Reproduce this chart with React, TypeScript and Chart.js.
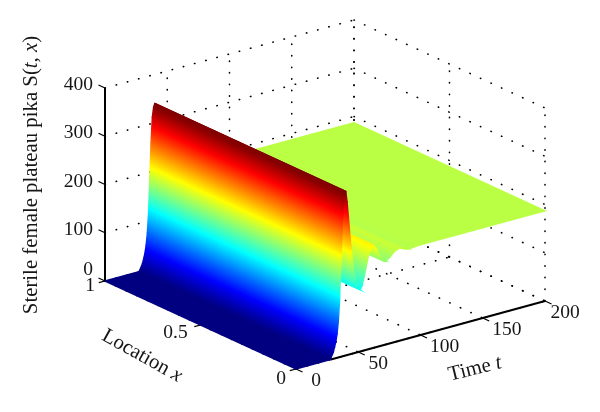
import React, { useEffect, useRef } from "react";
import Chart from "chart.js/auto";

// values; S does not visibly change with location
const timePoints = [0, 27, 28, 30, 31, 32, 33, 34, 35, 36, 37, 38, 39, 40, 41, 42, 44, 46, 48, 50, 51.5, 53, 55, 58, 61, 62, 64, 67, 70, 72, 75, 79, 83, 87, 91, 100, 150, 200];
const sterileValues = [0, 0, 3, 14, 24, 34, 50, 75, 118, 190, 260, 312, 332, 340, 318, 288, 225, 175, 148, 132, 128, 135, 155, 192, 212, 213, 205, 188, 175, 173, 178, 188, 192, 188, 185, 187, 187, 187];
const timeTicks = [0, 50, 100, 150, 200];
const locationTicks = [0, 0.5, 1];
const heightTicks = [0, 100, 200, 300, 400];

const COLOR_MAX = 335;
const FONT = '"Liberation Serif"';
const TEXT = "#161616";

// axonometric view of (t, x, S) onto the chart's plane
const project = (t: number, x: number, s: number) => ({
  x: 105 + 191 * (1 - x) + (249 * t) / 200,
  y: 281 + 88 * (1 - x) - (68 * t) / 200 - 0.4825 * s,
});

const clamp = (v: number) => Math.max(0, Math.min(1, v));
const jet = (v: number) => {
  const r = clamp(1.5 - Math.abs(4 * v - 3));
  const g = clamp(1.5 - Math.abs(4 * v - 2));
  const b = clamp(1.5 - Math.abs(4 * v - 1));
  return `rgb(${Math.round(r * 255)},${Math.round(g * 255)},${Math.round(b * 255)})`;
};

// gradient for one strip: colour depends on S only, bands run along the x direction
const stripPaint = (c: any, i: number) => {
  const { x: sx, y: sy } = c.chart.scales;
  const v0 = clamp(sterileValues[i] / COLOR_MAX);
  const v1 = clamp(sterileValues[i + 1] / COLOR_MAX);
  if (!sx || !sy) return jet(v0);
  const p0 = project(timePoints[i], 0, sterileValues[i]);
  const p1 = project(timePoints[i + 1], 0, sterileValues[i + 1]);
  const a = { x: sx.getPixelForValue(p0.x), y: sy.getPixelForValue(p0.y) };
  const b = { x: sx.getPixelForValue(p1.x), y: sy.getPixelForValue(p1.y) };
  const ox = project(0, 0, 0).x - project(0, 1, 0).x;
  const oy = project(0, 0, 0).y - project(0, 1, 0).y;
  const len = Math.hypot(ox, oy);
  const nx = -oy / len;
  const ny = ox / len;
  const d = (b.x - a.x) * nx + (b.y - a.y) * ny;
  if (Math.abs(d) < 0.01 || !isFinite(d)) return jet(v0);
  const g = c.chart.ctx.createLinearGradient(a.x, a.y, a.x + nx * d, a.y + ny * d);
  g.addColorStop(0, jet(v0));
  [0.125, 0.375, 0.625, 0.875].forEach((k) => {
    if ((k > v0 && k < v1) || (k < v0 && k > v1)) {
      g.addColorStop((k - v0) / (v1 - v0), jet(k));
    }
  });
  g.addColorStop(1, jet(v1));
  return g;
};

const surfaceSets = () => {
  const sets: any[] = [];
  for (let i = 0; i < timePoints.length - 1; i++) {
    const [t0, t1] = [timePoints[i], timePoints[i + 1]];
    const [s0, s1] = [sterileValues[i], sterileValues[i + 1]];
    const paint = (c: any) => stripPaint(c, i);
    sets.push({
      data: [project(t0, 1, s0), project(t0, 0, s0), project(t1, 0, s1), project(t1, 1, s1), project(t0, 1, s0)],
      showLine: true,
      fill: "shape",
      tension: 0,
      pointRadius: 0,
      // wide enough that neighbouring strips overlap, otherwise the white shows through the seams
      borderWidth: 1.4,
      borderColor: paint,
      backgroundColor: paint,
    });
  }
  return sets;
};

const dotted = (from: any, to: any) => ({
  data: [from, to],
  showLine: true,
  pointRadius: 0,
  borderColor: "#000",
  borderWidth: 1.6,
  borderDash: [0.4, 11.2],
  borderCapStyle: "round",
});

const gridSets = () => {
  const sets: any[] = [];
  heightTicks.forEach((s) => {
    sets.push(dotted(project(0, 1, s), project(200, 1, s)));
    sets.push(dotted(project(200, 1, s), project(200, 0, s)));
  });
  timeTicks.forEach((t) => {
    sets.push(dotted(project(t, 1, 0), project(t, 1, 400)));
    sets.push(dotted(project(t, 1, 0), project(t, 0, 0)));
  });
  locationTicks.forEach((x) => {
    sets.push(dotted(project(200, x, 0), project(200, x, 400)));
    sets.push(dotted(project(0, x, 0), project(200, x, 0)));
  });
  return sets;
};

const solid = (from: any, to: any, width: number) => ({
  data: [from, to],
  showLine: true,
  pointRadius: 0,
  borderColor: "#000",
  borderWidth: width,
  borderCapStyle: "butt",
});

const TICK = 0.034;
const axisSets = () => {
  const sets: any[] = [
    solid(project(0, 1, 0), project(0, 1, 400), 2),
    solid(project(28, 0, 0), project(200, 0, 0), 2),
  ];
  heightTicks.forEach((s) => sets.push(solid(project(0, 1, s), project(0, 1 + TICK, s), 1.2)));
  timeTicks.forEach((t) => sets.push(solid(project(t, 0, 0), project(t, -TICK, 0), 1.2)));
  locationTicks.forEach((x) => sets.push(solid(project(0, x, 0), project(-5, x, 0), 1.2)));
  return sets;
};

const drawRuns = (ctx: CanvasRenderingContext2D, runs: [string, boolean][], size: number) => {
  const widths = runs.map(([s, it]) => {
    ctx.font = `${it ? "italic " : ""}${size}px ${FONT}`;
    return ctx.measureText(s).width;
  });
  let pos = -widths.reduce((a, b) => a + b, 0) / 2;
  runs.forEach(([s, it], i) => {
    ctx.font = `${it ? "italic " : ""}${size}px ${FONT}`;
    ctx.fillText(s, pos, 0);
    pos += widths[i];
  });
};

const labelsPlugin = {
  id: "surfaceLabels",
  afterDraw(chart: any) {
    const { ctx } = chart;
    ctx.save();
    ctx.fillStyle = TEXT;
    ctx.textBaseline = "middle";
    ctx.font = `19.5px ${FONT}`;
    ctx.textAlign = "right";
    heightTicks.forEach((s) => {
      const p = project(0, 1, s);
      ctx.fillText(String(s), p.x - 12, p.y + (s === 0 ? -11 : -3));
    });
    ctx.textAlign = "center";
    locationTicks.forEach((x) => {
      const p = project(0, x, 0);
      if (x === 0.5) ctx.fillText("0.5", p.x - 25, p.y + 8);
      else ctx.fillText(String(x), p.x - 15, p.y + (x === 1 ? 5 : 10));
    });
    timeTicks.forEach((t) => {
      const p = project(t, 0, 0);
      ctx.fillText(String(t), p.x + (t === 100 || t === 150 ? 24 : 20), p.y + 12);
    });
    ctx.textAlign = "left";
    const place = (x: number, y: number, deg: number, runs: [string, boolean][], size: number) => {
      ctx.save();
      ctx.translate(x, y);
      ctx.rotate((deg * Math.PI) / 180);
      drawRuns(ctx, runs, size);
      ctx.restore();
    };
    place(32, 175, -90, [["Sterile female plateau pika S(", false], ["t", true], [", ", false], ["x", true], [")", false]], 20.8);
    place(142, 356, 29, [["Location ", false], ["x", true]], 20.8);
    place(475, 369, -14, [["Time ", false], ["t", true]], 20.8);
    ctx.restore();
  },
};

export default function App() {
  const canvasRef = useRef<HTMLCanvasElement>(null);

  useEffect(() => {
    document.body.style.margin = "0";
    const chart = new Chart(canvasRef.current as any, {
      type: "scatter",
      data: { datasets: [...surfaceSets(), ...axisSets(), ...gridSets()] as any },
      options: {
        animation: false,
        responsive: false,
        events: [],
        layout: { padding: 0 },
        plugins: { legend: { display: false }, tooltip: { enabled: false } },
        scales: {
          x: { type: "linear", display: false, min: 0, max: 600 },
          y: { type: "linear", display: false, min: 0, max: 412, reverse: true },
        },
      },
      plugins: [labelsPlugin],
    } as any);
    return () => chart.destroy();
  }, []);

  return <canvas ref={canvasRef} width={600} height={412} style={{ display: "block" }} />;
}
